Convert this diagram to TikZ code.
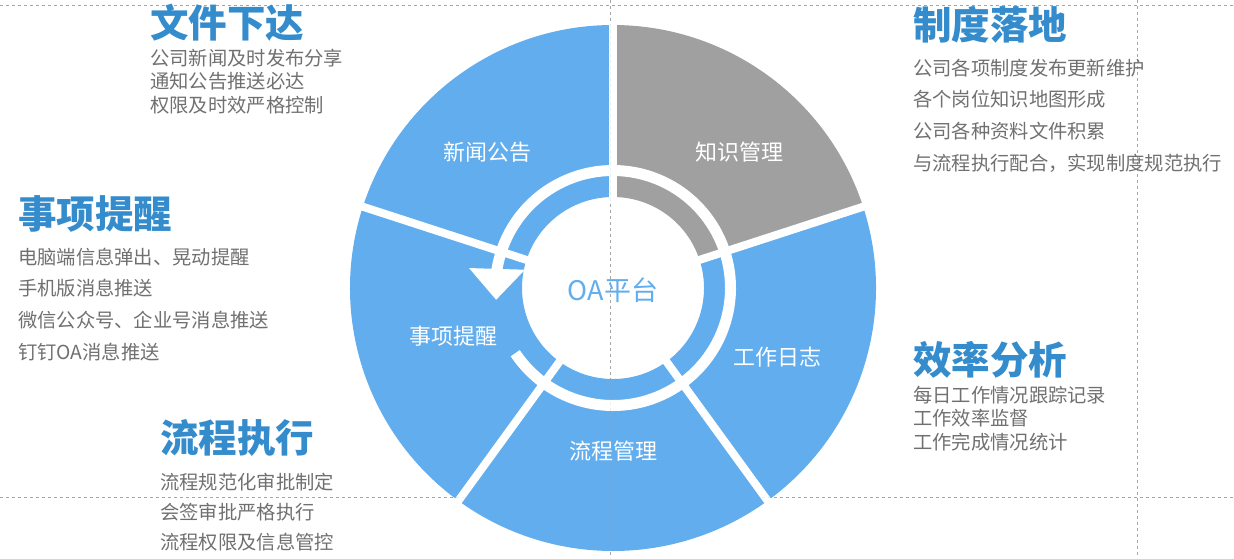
\documentclass[tikz,border=0pt]{standalone}
\usepackage{fontspec}
\setmainfont{Noto Sans CJK SC}
\usepackage{tikz}
\usetikzlibrary{arrows.meta,bending}

\definecolor{wheelblue}{HTML}{62ADED}
\definecolor{wheelgray}{HTML}{A0A0A0}
\definecolor{headblue}{HTML}{348CCC}
\definecolor{bodygray}{HTML}{707070}
\definecolor{guidegray}{HTML}{A6A6A6}

\tikzset{
  head/.style={anchor=base west, inner sep=0pt, text=headblue,
    font=\fontsize{38.5}{40}\selectfont\bfseries},
  body/.style={anchor=base west, inner sep=0pt, text=bodygray,
    font=\fontsize{19.3}{22}\selectfont},
  seglabel/.style={inner sep=0pt, text=white, font=\fontsize{22}{24}\selectfont},
  guide/.style={guidegray, line width=1pt, dash pattern=on 3pt off 3pt},
  gap/.style={white, line width=8pt},
}

\begin{document}
\begin{tikzpicture}[x=1pt,y=1pt]
\useasboundingbox (0,0) rectangle (1234,-558);

% guide lines
\draw[guide] (0,-5) -- (1234,-5);
\draw[guide] (0,-497) -- (1234,-497);
\draw[guide] (610,0) -- (610,-558);
\draw[guide] (1137,0) -- (1137,-558);

% wheel
\begin{scope}[shift={(613,-288)}]
\foreach \a/\col in {90/wheelgray,18/wheelblue,-54/wheelblue,-126/wheelblue,162/wheelblue}
  \fill[\col] ({\a-72}:91) arc[start angle=\a-72, end angle=\a, radius=91]
    -- (\a:263) arc[start angle=\a, end angle=\a-72, radius=263] -- cycle;

\foreach \a in {90,18,-54,-126,162}
  \draw[gap] (\a:85) -- (\a:266);

\draw[white, line width=11pt, -{Triangle[length=31pt,width=54pt]}]
  (213.7:117.5) arc[start angle=213.7, end angle=545.8, radius=117.5];
\end{scope}

% faint guides over the wheel
\draw[guide, opacity=.2] (0,-497) -- (1234,-497);
\draw[guide, opacity=.2] (610,0) -- (610,-558);

\node[seglabel] (news) at (487,-152) {新闻公告};
\node[seglabel] (know) at (739,-152) {知识管理};
\node[seglabel] (remind) at (453,-336) {事项提醒};
\node[seglabel] (log) at (777,-357) {工作日志};
\node[seglabel] (flow) at (613,-451) {流程管理};
\node[inner sep=0pt, text=wheelblue, font=\fontsize{27}{30}\selectfont] (oa) at (613,-290) {OA平台};

% text blocks
\node[head] (wjxd) at (150,-37.6) {文件下达};
\foreach \t [count=\k] in {公司新闻及时发布分享,通知公告推送必达,权限及时效严格控制}
  \node[body] (wjxd-\k) at (150,{-65-23.5*(\k-1)}) {\t};

\node[head] (zdld) at (913,-39.6) {制度落地};
\foreach \t [count=\k] in {公司各项制度发布更新维护,各个岗位知识地图形成,公司各种资料文件积累,与流程执行配合，实现制度规范执行}
  \node[body] (zdld-\k) at (913,{-75-31.7*(\k-1)}) {\t};

\node[head] (sxtx) at (18,-228) {事项提醒};
\foreach \t [count=\k] in {电脑端信息弹出、晃动提醒,手机版消息推送,微信公众号、企业号消息推送,钉钉OA消息推送}
  \node[body] (sxtx-\k) at (18,{-264-31.7*(\k-1)}) {\t};

\node[head] (lczx) at (160,-452) {流程执行};
\foreach \t [count=\k] in {流程规范化审批制定,会签审批严格执行,流程权限及信息管控}
  \node[body] (lczx-\k) at (160,{-489-30*(\k-1)}) {\t};

\node[head] (xlfx) at (913,-374.6) {效率分析};
\foreach \t [count=\k] in {每日工作情况跟踪记录,工作效率监督,工作完成情况统计}
  \node[body] (xlfx-\k) at (913,{-402-23.5*(\k-1)}) {\t};

\end{tikzpicture}
\end{document}
